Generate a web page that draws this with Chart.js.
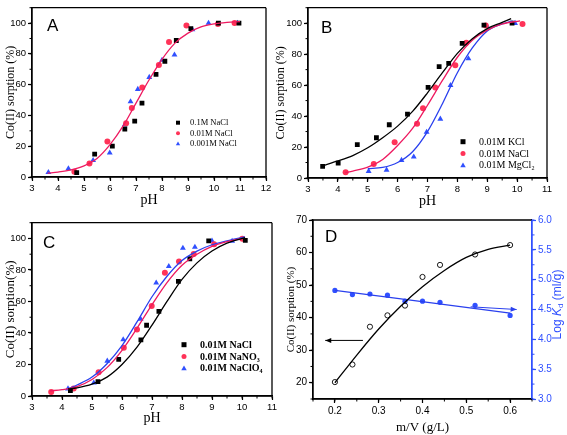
<!DOCTYPE html>
<html>
<head>
<meta charset="utf-8">
<script src="https://cdn.jsdelivr.net/npm/chart.js@4"></script>
<style>
body { margin:0; width:567px; height:435px; background:#fff; position:relative; overflow:hidden; }
canvas { position:absolute; }
</style>
</head>
<body>
<canvas id="cA" width="283" height="215" style="left:0;top:0;width:283px;height:215px"></canvas>
<canvas id="cB" width="295" height="215" style="left:272px;top:0;width:295px;height:215px"></canvas>
<canvas id="cC" width="290" height="220" style="left:0;top:215px;width:290px;height:220px"></canvas>
<canvas id="cD" width="282" height="223" style="left:285px;top:212px;width:282px;height:223px"></canvas>
<script>
// ---- panel A : ionic strength (NaCl)
var aLabels = ['0.1M NaCl', '0.01M NaCl', '0.001M NaCl'];
var aPh1 = [4.72, 5.41, 6.09, 6.57, 6.95, 7.23, 7.77, 8.11, 8.55, 9.11, 10.17, 10.96];
var aSo1 = [2.8, 14.9, 20, 31.2, 36.3, 48, 66.7, 75.2, 88.7, 96.4, 100, 100];
var aPh2 = [4.63, 5.21, 5.9, 6.62, 6.84, 7.24, 7.88, 8.27, 8.94, 10.15, 10.79];
var aSo2 = [3.4, 8.7, 23.1, 35, 44.8, 58.2, 72.8, 87.7, 98.5, 99.4, 100];
var aPh3 = [3.63, 4.4, 5.35, 5.99, 6.57, 6.79, 7.07, 7.51, 8.0, 8.48, 9.17, 9.79, 10.9];
var aSo3 = [3, 5.5, 10.8, 15.7, 34, 49, 57, 64.8, 76, 79.4, 95.8, 100, 100];
var aFitPh = [3.6, 4.0, 4.5, 5.0, 5.5, 6.0, 6.5, 7.0, 7.5, 8.0, 8.5, 9.0, 9.5, 10.0, 10.5, 11.0];
var aFitSo = [2.5, 3.2, 4.6, 7.2, 12, 21, 33, 48, 63, 76.5, 87, 93.5, 97.5, 99.5, 100.5, 101];

// ---- panel B : electrolyte cation
var bLabels = ['0.01M KCl', '0.01M NaCl', '0.01M MgCl\u2082'];
var bPh1 = [3.49, 4.01, 4.65, 5.29, 5.72, 6.33, 7.02, 7.39, 7.71, 8.16, 8.89, 9.83];
var bSo1 = [7.5, 9.6, 21.5, 26, 34.4, 41.3, 58.5, 71.9, 74, 86.9, 98.8, 100];
var bPh2 = [4.26, 5.2, 5.9, 6.65, 6.85, 7.26, 7.93, 8.3, 8.95, 10.18];
var bSo2 = [3.75, 9, 23.1, 35, 45, 58.5, 72.9, 87.3, 98.5, 99.4];
var bPh3 = [5.03, 5.63, 6.13, 6.54, 6.97, 7.43, 7.77, 8.37, 8.99, 9.93];
var bSo3 = [4.4, 5.2, 11.5, 13.7, 29.6, 38.1, 59.8, 77.1, 98.1, 100];
var bFitPh1 = [3.5, 4.0, 4.5, 5.0, 5.5, 6.0, 6.5, 7.0, 7.5, 8.0, 8.5, 9.0, 9.5, 9.8];
var bFitSo1 = [8, 11, 14.5, 19.5, 26, 33.5, 43, 55, 68, 80.5, 90, 96.5, 100.5, 103];
var bFitPh2 = [4.25, 4.5, 5.0, 5.5, 6.0, 6.5, 7.0, 7.5, 8.0, 8.5, 9.0, 9.5, 10.1];
var bFitSo2 = [3.5, 4.5, 7, 12, 21, 32, 47, 63, 78, 89, 95.5, 99.5, 101.5];
var bFitPh3 = [5.0, 5.5, 6.0, 6.5, 7.0, 7.5, 8.0, 8.5, 9.0, 9.5, 9.85];
var bFitSo3 = [6, 6.8, 10, 17, 30, 48, 68, 84, 95, 99.5, 101.5];

// ---- panel C : electrolyte anion
var cLabels = ['0.01M NaCl', '0.01M NaNO\u2083', '0.01M NaClO\u2084'];
var cPh1 = [4.28, 5.2, 5.89, 6.63, 6.82, 7.23, 7.88, 8.26, 8.89, 10.11];
var cSo1 = [3.5, 9.1, 23.3, 35.6, 44.9, 53.7, 72.8, 87.1, 98.5, 98.8];
var cPh2 = [3.64, 4.39, 5.22, 6.06, 6.5, 6.99, 7.43, 7.9, 8.39, 9.07, 10.01];
var cSo2 = [2.5, 4.8, 15, 30.6, 42.2, 57.2, 78.2, 85.4, 90.2, 96.4, 99.8];
var cPh3 = [4.2, 5.06, 5.51, 6.04, 6.62, 7.14, 7.56, 8.03, 8.43, 9.0, 9.67];
var cSo3 = [4.6, 8.3, 22.2, 35.8, 48.9, 71.8, 82.3, 93.9, 94.5, 98.5, 98.3];
var cFitPh1 = [4.2, 4.5, 5.0, 5.5, 6.0, 6.5, 7.0, 7.5, 8.0, 8.5, 9.0, 9.5, 10.1];
var cFitSo1 = [4.5, 5.2, 7.5, 12, 20, 31, 45, 60, 74, 84.5, 92, 97, 100.5];
var cFitPh2 = [3.6, 4.0, 4.5, 5.0, 5.5, 6.0, 6.5, 7.0, 7.5, 8.0, 8.5, 9.0, 9.5, 10.0];
var cFitSo2 = [3.3, 4, 6, 10.5, 18, 29, 43, 58, 72, 83, 90, 95, 98, 100];
var cFitPh3 = [4.2, 4.5, 5.0, 5.5, 6.0, 6.5, 7.0, 7.5, 8.0, 8.5, 9.0, 9.5, 10.1];
var cFitSo3 = [4.5, 7, 12, 20.5, 32, 47, 63, 76, 86, 92, 96, 98.5, 101];

// ---- panel D : solid content
var dMV = [0.2, 0.24, 0.28, 0.32, 0.36, 0.40, 0.44, 0.52, 0.60];
var dSorp = [20.2, 25.6, 37.2, 40.7, 43.7, 52.5, 56.2, 59.4, 62.3];
var dLogKd = [4.82, 4.75, 4.76, 4.74, 4.64, 4.64, 4.62, 4.57, 4.40];
var dFitMV = [0.2, 0.25, 0.3, 0.35, 0.4, 0.45, 0.5, 0.55, 0.6];
var dFitSorp = [20, 28.5, 36.5, 43.5, 49.5, 54.5, 58.5, 61, 62.3];
var dFitKdMV = [0.2, 0.6];
var dFitKd = [4.82, 4.44];
var dArrowL = [[0.264, 33], [0.178, 33]];
var dArrowR = [[0.51, 4.545], [0.615, 4.50]];

var RED = '#ff3358', REDLINE = '#ee1a60', BLUE = '#3050ff', BLUELINE = '#2a40ee';
var SERIF = '"Liberation Serif", "Times New Roman", serif';
var SANS = '"Liberation Sans", Arial, sans-serif';

function pts(xs, ys) {
  return xs.map(function (x, i) { return { x: x, y: ys[i] }; });
}
function marks(xs, ys, style, color, r, label) {
  return { type: 'scatter', data: pts(xs, ys), pointStyle: style, pointRadius: r, backgroundColor: color, borderColor: color,
           borderWidth: 0, showLine: false, legendLabel: label };
}
function curve(xs, ys, color) {
  return { type: 'line', data: pts(xs, ys), showLine: true, pointRadius: 0, borderColor: color, backgroundColor: color,
           borderWidth: 1.3, tension: 0.4, cubicInterpolationMode: 'monotone', fill: false };
}

function drawMark(ctx, style, x, y, r, color) {
  ctx.fillStyle = color;
  ctx.beginPath();
  if (style === 'rect') {
    ctx.rect(x - r, y - r, 2 * r, 2 * r);
  } else if (style === 'triangle') {
    ctx.moveTo(x, y - r * 1.15);
    ctx.lineTo(x + r * 1.1, y + r * 0.8);
    ctx.lineTo(x - r * 1.1, y + r * 0.8);
    ctx.closePath();
  } else {
    ctx.arc(x, y, r, 0, Math.PI * 2);
  }
  ctx.fill();
}

var decor = {
  id: 'decor',
  afterDraw: function (chart, args, o) {
    var ctx = chart.ctx, a = chart.chartArea;
    ctx.save();
    ctx.lineWidth = 1.3;
    ctx.strokeStyle = '#000';
    ctx.beginPath();
    ctx.moveTo(a.right, a.top); ctx.lineTo(a.left, a.top); ctx.lineTo(a.left, a.bottom); ctx.lineTo(a.right, a.bottom);
    ctx.stroke();
    ctx.strokeStyle = o.rightColor || '#000';
    ctx.beginPath(); ctx.moveTo(a.right, a.top); ctx.lineTo(a.right, a.bottom); ctx.stroke();

    // minor ticks, pointing outward
    ctx.lineWidth = 1;
    Object.keys(o.minor || {}).forEach(function (id) {
      var s = chart.scales[id], step = o.minor[id];
      ctx.strokeStyle = s.options.border.color;
      var first = Math.ceil(s.min / step - 1e-6);
      for (var k = first; k * step <= s.max + 1e-9; k++) {
        var p = s.getPixelForValue(k * step);
        ctx.beginPath();
        if (id === 'x') { ctx.moveTo(p, a.bottom); ctx.lineTo(p, a.bottom + 2.5); }
        else if (s.position === 'right') { ctx.moveTo(a.right, p); ctx.lineTo(a.right + 2.5, p); }
        else { ctx.moveTo(a.left, p); ctx.lineTo(a.left - 2.5, p); }
        ctx.stroke();
      }
    });

    ctx.fillStyle = '#000';
    ctx.textBaseline = 'middle';
    ctx.textAlign = 'left';
    ctx.font = '17px ' + SANS;
    ctx.fillText(o.letter, a.left + o.letterX, a.top + o.letterY);

    // inline legend
    if (o.legend) {
      var L = o.legend, row = 0;
      ctx.font = L.font;
      chart.data.datasets.forEach(function (ds) {
        if (!ds.legendLabel) return;
        var y = a.top + L.y + row * L.gap;
        drawMark(ctx, ds.pointStyle, a.left + L.x, y, L.r, ds.backgroundColor);
        ctx.fillStyle = '#000';
        ctx.fillText(ds.legendLabel, a.left + L.tx, y + 0.5);
        row++;
      });
    }

    // arrow heads on datasets flagged as arrows
    chart.data.datasets.forEach(function (ds, i) {
      if (!ds.arrow) return;
      var el = chart.getDatasetMeta(i).data;
      var p1 = el[el.length - 2], p2 = el[el.length - 1];
      var ang = Math.atan2(p2.y - p1.y, p2.x - p1.x);
      ctx.fillStyle = ds.borderColor;
      ctx.beginPath();
      ctx.moveTo(p2.x, p2.y);
      ctx.lineTo(p2.x - 6 * Math.cos(ang) + 2.5 * Math.sin(ang), p2.y - 6 * Math.sin(ang) - 2.5 * Math.cos(ang));
      ctx.lineTo(p2.x - 6 * Math.cos(ang) - 2.5 * Math.sin(ang), p2.y - 6 * Math.sin(ang) + 2.5 * Math.cos(ang));
      ctx.closePath();
      ctx.fill();
    });

    // right axis title with italic K and subscript d
    if (o.rightTitle) {
      var cx = chart.width - o.rightTitle.off, cy = (a.top + a.bottom) / 2 + o.rightTitle.dy;
      ctx.translate(cx, cy);
      ctx.rotate(-Math.PI / 2);
      ctx.fillStyle = o.rightColor;
      ctx.textBaseline = 'middle';
      var parts = [['Log ', '12px ' + SANS, 0], ['K', 'italic 12px ' + SANS, 0], ['d', '8px ' + SANS, 3], [' (ml/g)', '12px ' + SANS, 0]];
      var w = 0;
      parts.forEach(function (p) { ctx.font = p[1]; w += ctx.measureText(p[0]).width; });
      var x = -w / 2;
      parts.forEach(function (p) {
        ctx.font = p[1];
        ctx.fillText(p[0], x, p[2]);
        x += ctx.measureText(p[0]).width;
      });
    }
    ctx.restore();
  }
};

function fixSize(prop, v) {
  return function (s) { s[prop] = v; };
}
// major ticks on multiples of step only, inside [min, max]
function onStep(step) {
  return function (s) {
    var t = [];
    for (var k = Math.ceil(s.min / step - 1e-6); k * step <= s.max + 1e-9; k++) {
      t.push({ value: Math.round(k * step * 1e6) / 1e6 });
    }
    s.ticks = t;
  };
}

function xAxis(min, max, step, height, title, titleSize, titlePad, tickSize) {
  return {
    type: 'linear', min: min, max: max, bounds: 'data', afterFit: fixSize('height', height), afterBuildTicks: onStep(step),
    grid: { display: true, drawOnChartArea: false, drawTicks: true, tickLength: 4, color: '#000', tickWidth: 1.2 },
    border: { display: true, color: '#000', width: 1.3 },
    ticks: { stepSize: step, color: '#000', padding: 2, maxRotation: 0,
             font: { family: SANS, size: tickSize } },
    title: { display: true, text: title, color: '#000', font: { family: SERIF, size: titleSize }, padding: { top: titlePad, bottom: titlePad } }
  };
}
function yAxis(min, max, step, width, title, titleSize, titlePad, tickSize) {
  return {
    type: 'linear', min: min, max: max, bounds: 'data', afterFit: fixSize('width', width), afterBuildTicks: onStep(step),
    grid: { display: true, drawOnChartArea: false, drawTicks: true, tickLength: 4, color: '#000', tickWidth: 1.2 },
    border: { display: true, color: '#000', width: 1.3 },
    ticks: { stepSize: step, color: '#000', padding: 2, font: { family: SANS, size: tickSize } },
    title: { display: true, text: title, color: '#000', font: { family: SERIF, size: titleSize }, padding: { top: titlePad, bottom: titlePad } }
  };
}

function baseOptions(pad, scales, decorOpts) {
  return {
    responsive: false, animation: false,
    layout: { padding: pad },
    plugins: { legend: { display: false }, tooltip: { enabled: false }, decor: decorOpts },
    scales: scales
  };
}

// panel A
new Chart(document.getElementById('cA'), {
  type: 'scatter',
  data: { datasets: [
    curve(aFitPh, aFitSo, REDLINE),
    marks(aPh1, aSo1, 'rect', '#000', 3.4, aLabels[0]),
    marks(aPh2, aSo2, 'circle', RED, 3, aLabels[1]),
    marks(aPh3, aSo3, 'triangle', BLUE, 3.4, aLabels[2])
  ] },
  options: baseOptions({ top: 3, right: 17, left: 0, bottom: 0 }, {
    x: xAxis(3, 12, 1, 38, 'pH', 14, 6, 9.5),
    y: yAxis(0, 110, 20, 32, 'Co(II) sorption (%)', 12, 4, 9.5)
  }, { letter: 'A', letterX: 15, letterY: 19, minor: { x: 0.5, y: 10 },
       legend: { x: 146, y: 115, gap: 10.5, tx: 158, r: 2, font: '8.5px ' + SERIF } }),
  plugins: [decor]
});

// panel B
new Chart(document.getElementById('cB'), {
  type: 'scatter',
  data: { datasets: [
    curve(bFitPh1, bFitSo1, '#000'),
    curve(bFitPh2, bFitSo2, REDLINE),
    curve(bFitPh3, bFitSo3, BLUELINE),
    marks(bPh1, bSo1, 'rect', '#000', 3.4, bLabels[0]),
    marks(bPh2, bSo2, 'circle', RED, 3, bLabels[1]),
    marks(bPh3, bSo3, 'triangle', BLUE, 3.4, bLabels[2])
  ] },
  options: baseOptions({ top: 2, right: 20, left: 0, bottom: 0 }, {
    x: xAxis(3, 11, 1, 37, 'pH', 14, 5, 9.5),
    y: yAxis(0, 110, 20, 36, 'Co(II) sorption (%)', 12, 2, 9.5)
  }, { letter: 'B', letterX: 13, letterY: 21, minor: { x: 0.5, y: 10 },
       legend: { x: 155, y: 134, gap: 11.8, tx: 171, r: 2.5, font: '10px ' + SERIF } }),
  plugins: [decor]
});

// panel C
new Chart(document.getElementById('cC'), {
  type: 'scatter',
  data: { datasets: [
    curve(cFitPh1, cFitSo1, '#000'),
    curve(cFitPh2, cFitSo2, REDLINE),
    curve(cFitPh3, cFitSo3, BLUELINE),
    marks(cPh1, cSo1, 'rect', '#000', 3.4, cLabels[0]),
    marks(cPh2, cSo2, 'circle', RED, 3, cLabels[1]),
    marks(cPh3, cSo3, 'triangle', BLUE, 3.4, cLabels[2])
  ] },
  options: baseOptions({ top: 5, right: 18, left: 0, bottom: 0 }, {
    x: xAxis(3, 11, 1, 39, 'pH', 14, 8, 9.5),
    y: yAxis(0, 110, 20, 32, 'Co(II) sorption(%)', 13, 3, 9.5)
  }, { letter: 'C', letterX: 11, letterY: 21, minor: { x: 0.5, y: 10 },
       legend: { x: 152, y: 122, gap: 11.8, tx: 168, r: 2.5, font: 'bold 10px ' + SERIF } }),
  plugins: [decor]
});

// panel D
var dArrowLds = { type: 'line', data: dArrowL.map(function (p) { return { x: p[0], y: p[1] }; }), showLine: true, pointRadius: 0,
                  borderColor: '#000', borderWidth: 1, arrow: true, yAxisID: 'y' };
var dArrowRds = { type: 'line', data: dArrowR.map(function (p) { return { x: p[0], y: p[1] }; }), showLine: true, pointRadius: 0,
                  borderColor: BLUELINE, borderWidth: 1, arrow: true, yAxisID: 'y2' };
var dOpen = { type: 'scatter', data: pts(dMV, dSorp), pointStyle: 'circle', pointRadius: 2.6, backgroundColor: 'rgba(0,0,0,0)',
              borderColor: '#000', pointBorderWidth: 0.9, showLine: false, yAxisID: 'y' };
var dFill = { type: 'scatter', data: pts(dMV, dLogKd), pointStyle: 'circle', pointRadius: 2.6, backgroundColor: BLUE,
              borderColor: BLUE, borderWidth: 0, showLine: false, yAxisID: 'y2' };
var dCurve = curve(dFitMV, dFitSorp, '#000'); dCurve.yAxisID = 'y';
var dLine = curve(dFitKdMV, dFitKd, BLUELINE); dLine.yAxisID = 'y2';

var dx = xAxis(0.15, 0.65, 0.1, 36, 'm/V (g/L)', 13, 0, 10);
dx.ticks.callback = function (v) { return v.toFixed(1); };
var dy = yAxis(15, 70, 10, 28, 'Co(II) sorption (%)', 11, 0, 10);
var dy2 = {
  type: 'linear', position: 'right', min: 3, max: 6, bounds: 'data', afterFit: fixSize('width', 35), afterBuildTicks: onStep(0.5),
  grid: { display: true, drawOnChartArea: false, drawTicks: true, tickLength: 4, color: BLUE, tickWidth: 1.2 },
  border: { display: true, color: BLUE, width: 1.3 },
  ticks: { stepSize: 0.5, color: BLUE, padding: 2, font: { family: SANS, size: 10 },
           callback: function (v) { return v.toFixed(1); } },
  title: { display: false }
};

new Chart(document.getElementById('cD'), {
  type: 'scatter',
  data: { datasets: [dCurve, dLine, dArrowLds, dArrowRds, dOpen, dFill] },
  options: baseOptions({ top: 6, right: 0, left: 0, bottom: 0 }, { x: dx, y: dy, y2: dy2 },
    { letter: 'D', letterX: 12, letterY: 17, rightColor: BLUE, rightTitle: { off: 9, dy: -5 },
      minor: { x: 0.05, y: 5, y2: 0.25 } }),
  plugins: [decor]
});
</script>
</body>
</html>
